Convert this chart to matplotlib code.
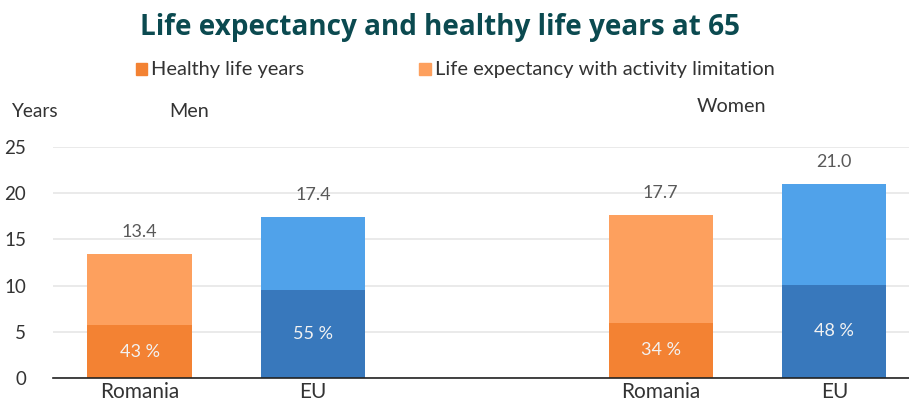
import numpy as np
import matplotlib.pyplot as plt

plt.rcParams['font.family'] = ['Lato', 'DejaVu Sans']

groups = ['Men', 'Men', 'Women', 'Women']
countries = ['Romania', 'EU', 'Romania', 'EU']
healthy_years = [5.7, 9.5, 6.0, 10.1]
total_years = [13.4, 17.4, 17.7, 21.0]
healthy_share = ['43 %', '55 %', '34 %', '48 %']

positions = np.array([0, 1, 3, 4])
limited_years = np.array(total_years) - np.array(healthy_years)

dark_colors = ['#F38233', '#3878BC', '#F38233', '#3878BC']
light_colors = ['#FDA05E', '#50A2EA', '#FDA05E', '#50A2EA']

fig = plt.figure(figsize=(9.09, 4.03), dpi=100)
ax = fig.add_axes([0.058, 0.062, 0.942, 0.573])

ax.bar(positions, healthy_years, width=0.6, color=dark_colors, zorder=3)
ax.bar(positions, limited_years, width=0.6, bottom=healthy_years,
       color=light_colors, zorder=3)

for x, h, t, s in zip(positions, healthy_years, total_years, healthy_share):
    ax.text(x, h / 2, s, ha='center', va='center', color='#F2F2F2', fontsize=13)
    ax.text(x, t + 1.84, f'{t:.1f}', ha='center', va='baseline', color='#595959', fontsize=13)

ax.set_xlim(-0.5, 4.43)
ax.set_ylim(0, 25)
ax.set_yticks([0, 5, 10, 15, 20, 25])
ax.set_xticks(positions)
ax.set_xticklabels(countries)
ax.tick_params(axis='both', length=0, labelcolor='#333333')
ax.tick_params(axis='x', pad=3, labelsize=15)
ax.tick_params(axis='y', pad=19, labelsize=13.5)
ax.grid(axis='y', color='#E6E6E6', linewidth=1.2, zorder=0)
for side in ['top', 'right', 'left']:
    ax.spines[side].set_visible(False)
ax.spines['bottom'].set_color('#222222')
ax.spines['bottom'].set_linewidth(1.2)
ax.spines['bottom'].set_zorder(4)

fig.text(440 / 909, 1 - 35 / 403, 'Life expectancy and healthy life years at 65', ha='center', va='baseline',
         fontsize=20.1, fontweight='bold', color='#0B4A50', family=['Open Sans', 'DejaVu Sans'])

# legend
fig.patches.append(plt.Rectangle((136 / 909, 1 - 75 / 403), 11 / 909, 12 / 403,
                                 transform=fig.transFigure, color='#F38233'))
fig.text(151 / 909, 1 - 75 / 403, 'Healthy life years', ha='left', va='baseline',
         fontsize=14.4, color='#333333')
fig.patches.append(plt.Rectangle((419 / 909, 1 - 75 / 403), 12 / 909, 12 / 403,
                                 transform=fig.transFigure, color='#FDA05E'))
fig.text(435 / 909, 1 - 75 / 403, 'Life expectancy with activity limitation', ha='left',
         va='baseline', fontsize=14.5, color='#333333')

fig.text(11 / 909, 1 - 117 / 403, 'Years', ha='left', va='baseline', fontsize=13.8, color='#333333')
fig.text(189.5 / 909, 1 - 117 / 403, 'Men', ha='center', va='baseline', fontsize=14.2, color='#333333')
fig.text(731 / 909, 1 - 112 / 403, 'Women', ha='center', va='baseline', fontsize=14.2, color='#333333')

fig.savefig('out.png', dpi=100)
